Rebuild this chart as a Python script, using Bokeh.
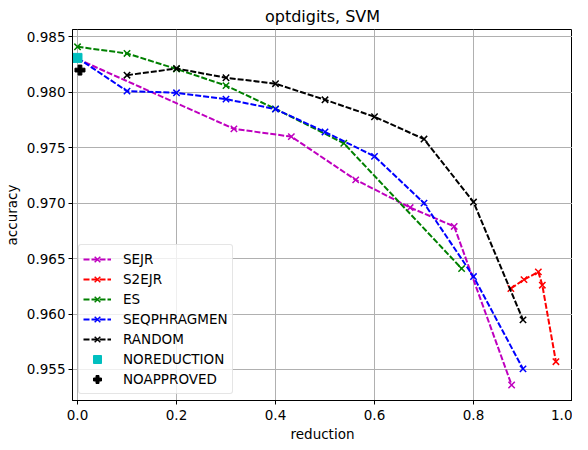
from bokeh.plotting import figure
from bokeh.models import Legend, LegendItem, FixedTicker, NumeralTickFormatter, Range1d, Title
from bokeh.embed import file_html
from bokeh.resources import INLINE

# ---- data ----
sejr_x = [0.0, 0.316, 0.432, 0.562, 0.672, 0.761, 0.877]
sejr_y = [0.9830, 0.9767, 0.9760, 0.9721, 0.9696, 0.9679, 0.9536]

s2ejr_x = [0.8755, 0.902, 0.931, 0.939, 0.9665]
s2ejr_y = [0.9623, 0.9631, 0.9638, 0.9626, 0.9557]

es_x = [0.0, 0.1, 0.2, 0.3, 0.4, 0.538, 0.776]
es_y = [0.9841, 0.9835, 0.9821, 0.9806, 0.9785, 0.9754, 0.9641]

seq_x = [0.0, 0.1, 0.2, 0.3, 0.4, 0.5, 0.6, 0.7, 0.8, 0.9]
seq_y = [0.9831, 0.9801, 0.97995, 0.97938, 0.97848, 0.97642, 0.97422, 0.9700, 0.96338, 0.95505]

rand_x = [0.1, 0.2, 0.3, 0.4, 0.5, 0.6, 0.7, 0.8, 0.9]
rand_y = [0.98154, 0.98214, 0.98131, 0.98077, 0.97932, 0.97779, 0.97578, 0.9701, 0.95947]

noreduction_x = [0.0]
noreduction_y = [0.9831]
noapproved_x = [0.005]
noapproved_y = [0.9820]

x_ticks = [0.0, 0.2, 0.4, 0.6, 0.8, 1.0]
y_ticks = [0.955, 0.960, 0.965, 0.970, 0.975, 0.980, 0.985]

FONT = "DejaVu Sans"

p = figure(width=572, height=442, output_backend="svg", toolbar_location=None,
           x_range=Range1d(-0.0101, 1.0), y_range=Range1d(0.9522, 0.98566),
           min_border_left=66, min_border_right=0, min_border_top=23, min_border_bottom=0,
           title="optdigits, SVM")
p.background_fill_color = "white"
p.border_fill_color = "white"
p.outline_line_color = "black"
p.outline_line_width = 1

p.title.align = "center"
p.title.text_font = FONT
p.title.text_font_size = "16px"
p.title.text_font_style = "normal"
p.title.text_color = "black"
p.title.standoff = 8

for ax in (p.xaxis[0], p.yaxis[0]):
    ax.major_label_text_font = FONT
    ax.major_label_text_font_size = "13.5px"
    ax.major_label_text_color = "black"
    ax.axis_label_text_font = FONT
    ax.axis_label_text_font_size = "13.5px"
    ax.axis_label_text_font_style = "normal"
    ax.axis_label_text_color = "black"
    ax.major_tick_out = 4
    ax.major_tick_in = 0
    ax.minor_tick_out = 0
    ax.minor_tick_in = 0
    ax.axis_line_color = "black"
    ax.major_tick_line_color = "black"

p.yaxis.axis_label = "accuracy"
p.xaxis.ticker = FixedTicker(ticks=x_ticks)
p.yaxis.ticker = FixedTicker(ticks=y_ticks)
p.xaxis.formatter = NumeralTickFormatter(format="0.0")
p.yaxis.formatter = NumeralTickFormatter(format="0.000")
p.xaxis.major_label_standoff = 5
p.yaxis.major_label_standoff = 3
p.yaxis.axis_label_standoff = 4

# x-axis title as a compact title panel below the axis
xt = Title(text="reduction", align="center", text_font=FONT, text_font_size="13.5px",
           text_font_style="normal", text_color="black", standoff=2)
p.add_layout(xt, "below")

p.xgrid.grid_line_color = "#b0b0b0"
p.ygrid.grid_line_color = "#b0b0b0"
p.xgrid.grid_line_width = 1
p.ygrid.grid_line_width = 1

series = [
    ("SEJR", sejr_x, sejr_y, "#bf00bf"),
    ("S2EJR", s2ejr_x, s2ejr_y, "#ff0000"),
    ("ES", es_x, es_y, "#008000"),
    ("SEQPHRAGMEN", seq_x, seq_y, "#0000ff"),
    ("RANDOM", rand_x, rand_y, "#000000"),
]

items = []
for name, xs, ys, col in series:
    l = p.line(xs, ys, line_color=col, line_width=2, line_dash="6 2")
    s = p.scatter(xs, ys, marker="x", size=9, line_color=col, line_width=1.5)
    items.append(LegendItem(label=name, renderers=[l, s]))

sq = p.scatter(noreduction_x, noreduction_y, marker="square", size=9,
               fill_color="#00bfbf", line_color="#00bfbf")
items.append(LegendItem(label="NOREDUCTION", renderers=[sq]))
pl = p.scatter(noapproved_x, noapproved_y, marker="plus", size=10,
               fill_color="black", line_color="black")
items.append(LegendItem(label="NOAPPROVED", renderers=[pl]))

legend = Legend(items=items, location="bottom_left")
legend.margin = 6
legend.padding = 4
legend.spacing = 0
legend.glyph_width = 28
legend.glyph_height = 20
legend.label_height = 20
legend.label_standoff = 12
legend.label_text_font = FONT
legend.label_text_font_size = "13.5px"
legend.label_text_color = "black"
legend.border_line_color = "#cccccc"
legend.border_line_width = 1
legend.background_fill_alpha = 0.8
legend.border_radius = 3
p.add_layout(legend, "center")

open("out.html", "w").write(file_html(p, INLINE))
